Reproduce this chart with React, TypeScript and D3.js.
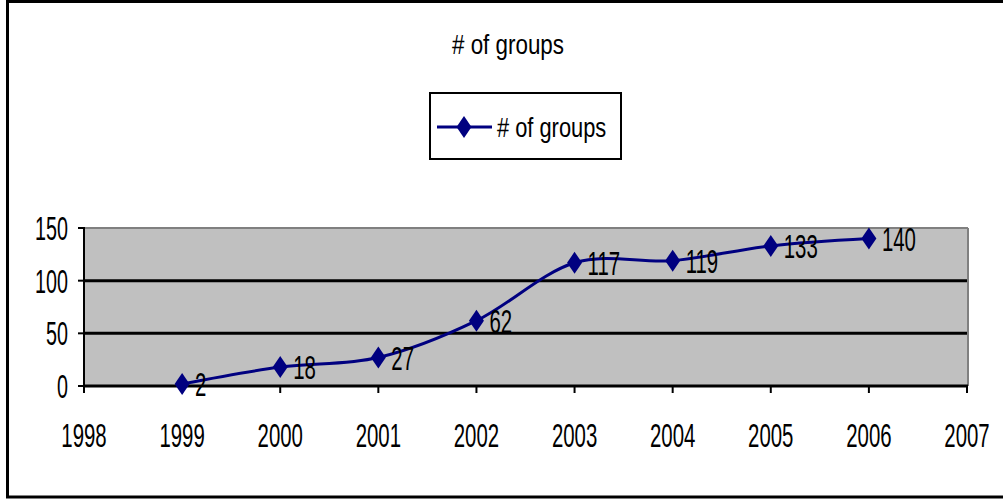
import React from "react";
import * as d3 from "d3";

// Number of groups per year
const years = [1999, 2000, 2001, 2002, 2003, 2004, 2005, 2006];
const groups = [2, 18, 27, 62, 117, 119, 133, 140];
const xTicks = [1998, 1999, 2000, 2001, 2002, 2003, 2004, 2005, 2006, 2007];
const yTicks = [0, 50, 100, 150];
const title = "# of groups";
const seriesName = "# of groups";

const W = 1003;
const H = 499;
const left = 84;
const right = 967;
const top = 228;
const bottom = 386;
const navy = "#000080";
const font = "'Liberation Sans', Arial, sans-serif";

function Txt({ x, y, size, sx, anchor, children }: { x: number; y: number; size: number; sx: number; anchor?: string; children: React.ReactNode }) {
  return (
    <text
      transform={`translate(${x},${y}) scale(${sx},1)`}
      fontFamily={font}
      fontSize={size}
      textAnchor={anchor || "start"}
      fill="#000"
    >
      {children}
    </text>
  );
}

function Diamond({ cx, cy }: { cx: number; cy: number }) {
  const w = 7.5, h = 11;
  return <path d={`M${cx},${cy - h}L${cx + w},${cy}L${cx},${cy + h}L${cx - w},${cy}Z`} fill={navy} />;
}

export default function App() {
  const x = d3.scaleLinear().domain([1998, 2007]).range([left, right]);
  const y = d3.scaleLinear().domain([0, 150]).range([bottom, top]);
  const pts: [number, number][] = years.map((yr, i) => [x(yr), y(groups[i])]);
  const line = d3.line().curve(d3.curveCatmullRom.alpha(0))(pts) || "";

  return (
    <svg width={W} height={H} style={{ position: "absolute", left: 0, top: 0, background: "#fff" }}>
      {/* chart frame */}
      <rect x={7.5} y={1.5} width={1010} height={495.5} fill="none" stroke="#000" strokeWidth={3} />

      <Txt x={508} y={54} size={28} sx={0.8} anchor="middle">{title}</Txt>

      {/* legend */}
      <rect x={430} y={93} width={191} height={66} fill="#fff" stroke="#000" strokeWidth={2} />
      <line x1={437} x2={492} y1={127} y2={127} stroke={navy} strokeWidth={3} />
      <Diamond cx={464} cy={127} />
      <Txt x={497} y={137} size={28} sx={0.78}>{seriesName}</Txt>

      {/* plot area */}
      <rect x={left} y={top} width={right - left} height={bottom - top} fill="#c0c0c0" />
      <line x1={left} x2={right + 1} y1={top} y2={top} stroke="#808080" strokeWidth={2} />
      <line x1={right + 1} x2={right + 1} y1={top} y2={bottom} stroke="#808080" strokeWidth={2} />
      {yTicks.filter((t) => t > 0 && t < 150).map((t) => (
        <line key={t} x1={left} x2={right} y1={y(t)} y2={y(t)} stroke="#000" strokeWidth={3} />
      ))}

      {/* axes */}
      <line x1={left} x2={left} y1={top - 1} y2={bottom} stroke="#000" strokeWidth={2} />
      <line x1={left} x2={right + 1} y1={bottom} y2={bottom} stroke="#000" strokeWidth={3} />
      {yTicks.map((t) => (
        <g key={t}>
          <line x1={left - 6} x2={left} y1={y(t)} y2={y(t)} stroke="#000" strokeWidth={2} />
          <Txt x={68} y={y(t) + 12} size={34} sx={0.58} anchor="end">{t}</Txt>
        </g>
      ))}
      {xTicks.map((t) => (
        <g key={t}>
          <line x1={x(t)} x2={x(t)} y1={bottom} y2={bottom + 7} stroke="#000" strokeWidth={2} />
          <Txt x={x(t)} y={447} size={34} sx={0.6} anchor="middle">{t}</Txt>
        </g>
      ))}

      {/* series */}
      <path d={line} fill="none" stroke={navy} strokeWidth={3} />
      {pts.map(([px, py], i) => (
        <g key={years[i]}>
          <Diamond cx={px} cy={py} />
          <Txt x={px + 13} y={py + 12} size={34} sx={0.6}>{groups[i]}</Txt>
        </g>
      ))}
    </svg>
  );
}
